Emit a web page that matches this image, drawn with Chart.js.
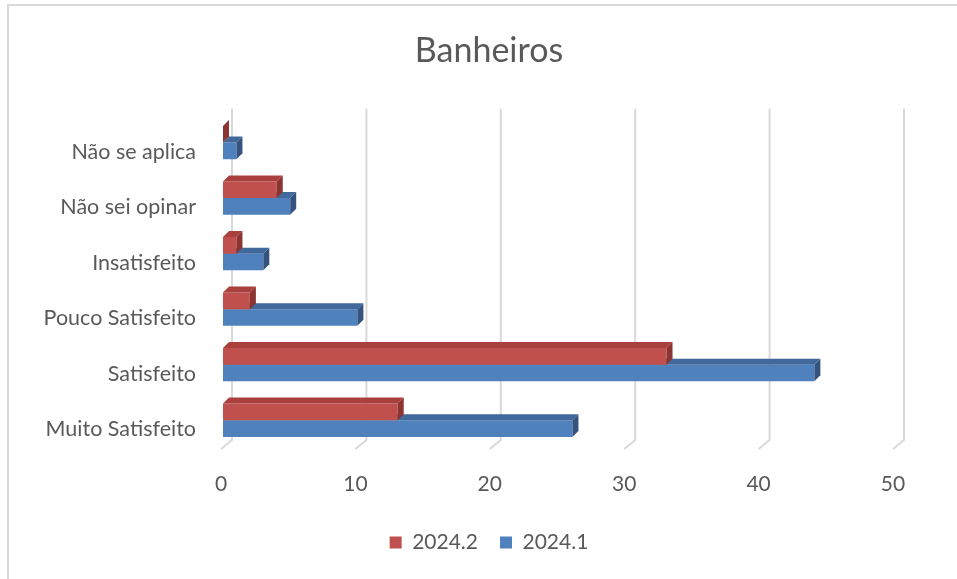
<!DOCTYPE html>
<html lang="pt-BR">
<head>
  <meta charset="UTF-8">
  <title>Banheiros</title>
  <style>
    html, body {
      margin: 0;
      padding: 0;
      background: #fff;
      overflow: hidden;
    }
    .frame {
      position: absolute;
      left: 7px;
      top: 4px;
      width: 1000px;
      height: 1000px;
      border: 2px solid #d9d9d9;
    }
    #chart {
      position: absolute;
      left: 0;
      top: 0;
    }
  </style>
</head>
<body>
  <div class="frame"></div>
  <canvas id="chart" width="957" height="579"></canvas>

  <script src="https://cdn.jsdelivr.net/npm/chart.js"></script>
  <script>
    // Categorias (de cima para baixo) e respostas por semestre
    var categorias = ['Não se aplica', 'Não sei opinar', 'Insatisfeito', 'Pouco Satisfeito', 'Satisfeito', 'Muito Satisfeito'];
    var valores20242 = [0, 4, 1, 2, 33, 13];
    var valores20241 = [1, 5, 3, 10, 44, 26];
    var ticksX = [0, 10, 20, 30, 40, 50];

    var corTexto = '#595959';
    var fonte = 'Lato, "Open Sans", sans-serif';

    // Faces laterais (efeito 3D) de cada série
    var facesTopo = ['#a9403d', '#41699c'];
    var facesFim = ['#8b3431', '#34547f'];
    var prof = 6;

    var efeito3d = {
      id: 'efeito3d',
      beforeDatasetsDraw: function (chart) {
        // linhas de grade com a "parede" de fundo e o piso inclinado
        var ctx = chart.ctx;
        var x = chart.scales.x;
        var area = chart.chartArea;
        ctx.save();
        ctx.strokeStyle = '#d9d9d9';
        ctx.lineWidth = 2;
        ticksX.forEach(function (v) {
          var px = x.getPixelForValue(v);
          ctx.beginPath();
          ctx.moveTo(px + 9, area.top - 6);
          ctx.lineTo(px + 9, area.bottom - 8);
          ctx.lineTo(px - 2, area.bottom + 1);
          ctx.stroke();
        });
        ctx.restore();
      },
      afterDatasetDraw: function (chart, args) {
        var ctx = chart.ctx;
        var i = args.index;
        ctx.save();
        args.meta.data.forEach(function (bar) {
          var p = bar.getProps(['x', 'y', 'base', 'height'], true);
          var top = p.y - p.height / 2;
          var bot = p.y + p.height / 2;
          // face de cima
          ctx.fillStyle = facesTopo[i];
          ctx.beginPath();
          ctx.moveTo(p.base, top);
          ctx.lineTo(p.x, top);
          ctx.lineTo(p.x + prof, top - prof);
          ctx.lineTo(p.base + prof, top - prof);
          ctx.closePath();
          ctx.fill();
          // face da ponta
          ctx.fillStyle = facesFim[i];
          ctx.beginPath();
          ctx.moveTo(p.x, top);
          ctx.lineTo(p.x + prof, top - prof);
          ctx.lineTo(p.x + prof, bot - prof);
          ctx.lineTo(p.x, bot);
          ctx.closePath();
          ctx.fill();
        });
        ctx.restore();
      }
    };

    var ctx = document.getElementById('chart').getContext('2d');
    var grafico = new Chart(ctx, {
      type: 'bar',
      data: {
        labels: categorias,
        datasets: [{
          label: '2024.2',
          data: valores20242,
          backgroundColor: '#c0504d',
          borderWidth: 0
        }, {
          label: '2024.1',
          data: valores20241,
          backgroundColor: '#4f81bd',
          borderWidth: 0
        }]
      },
      options: {
        indexAxis: 'y',
        responsive: false,
        animation: false,
        categoryPercentage: 0.6,
        barPercentage: 1.0,
        layout: {
          padding: { top: 0, left: 21, right: 0, bottom: 16 }
        },
        scales: {
          x: {
            min: 0,
            max: 50,
            grid: { display: false, drawTicks: false },
            border: { display: false },
            afterBuildTicks: function (scale) {
              scale.ticks = ticksX.map(function (v) { return { value: v }; });
            },
            afterFit: function (scale) { scale.height = 62; },
            ticks: {
              padding: 24,
              labelOffset: -2,
              color: corTexto,
              font: { family: fonte, size: 21 }
            }
          },
          y: {
            grid: { display: false, drawTicks: false },
            border: { display: false },
            afterFit: function (scale) { scale.width = 202; },
            ticks: {
              padding: 27,
              labelOffset: 9,
              color: corTexto,
              font: { family: fonte, size: 21.5 }
            }
          },
          // espaço vazio à direita da área do gráfico
          margemDireita: {
            type: 'linear',
            position: 'right',
            grid: { display: false, drawTicks: false },
            border: { display: false },
            ticks: { display: false },
            afterFit: function (scale) { scale.width = 62; }
          }
        },
        plugins: {
          title: {
            display: true,
            text: 'Banheiros',
            color: corTexto,
            font: { family: fonte, size: 34, weight: 'normal' },
            padding: { top: 31, bottom: 43 }
          },
          legend: {
            position: 'bottom',
            labels: {
              boxWidth: 12,
              boxHeight: 12,
              padding: 22,
              color: corTexto,
              font: { family: fonte, size: 21 }
            }
          },
          tooltip: { enabled: false }
        }
      },
      plugins: [efeito3d]
    });
  </script>
</body>
</html>
